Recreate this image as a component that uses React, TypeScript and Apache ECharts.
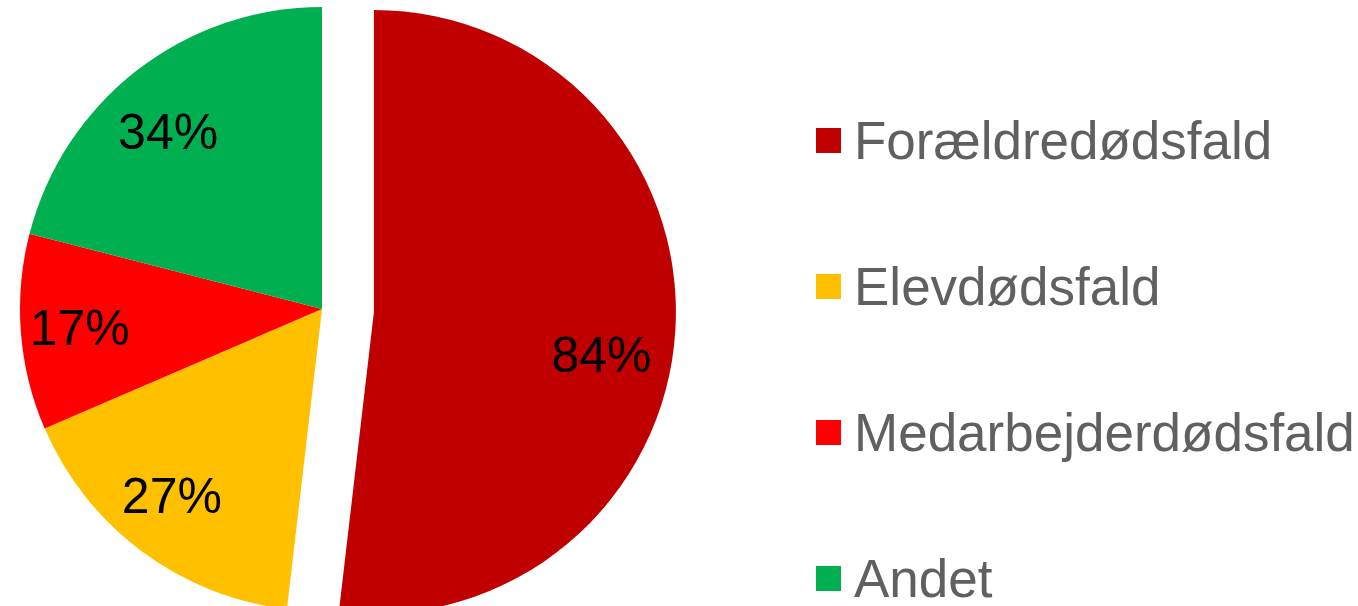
import React, { useEffect, useRef } from "react";
import * as echarts from "echarts";

const categories = ["Forældredødsfald", "Elevdødsfald", "Medarbejderdødsfald", "Andet"];
const values = [84, 27, 17, 34];
const colors = ["#C00000", "#FFC000", "#FF0000", "#00B050"];

export default function App() {
  const ref = useRef<HTMLDivElement>(null);
  useEffect(() => {
    document.body.style.margin = "0";
    const chart = echarts.init(ref.current!, null, { renderer: "svg" });
    const data = categories.map((name, i) => ({
      name,
      value: values[i],
      selected: i === 0,
      itemStyle: { color: colors[i] },
    }));
    // small per-label nudges to mimic the reference's label placement
    const labelTweaks: any[] = [
      { formatter: "\n{c}%", lineHeight: 58, padding: [0, 30, 0, 0] },
      { formatter: "{c}%\n", lineHeight: 16, padding: [0, 10, 0, 0] },
      {},
      { formatter: "\n{c}%", lineHeight: 30, padding: [0, 10, 0, 0] },
    ];
    const labelData = categories.map((name, i) => ({
      name,
      value: values[i],
      selected: i === 0,
      label: labelTweaks[i],
    }));
    chart.setOption({
      animation: false,
      color: colors,
      legend: {
        orient: "vertical",
        left: 816,
        top: 114,
        height: 606,
        padding: 0,
        icon: "rect",
        itemWidth: 25,
        itemHeight: 25,
        itemGap: 93,
        selectedMode: false,
        data: categories,
        textStyle: {
          fontSize: 53,
          lineHeight: 50,
          color: "#606060",
          fontFamily: "Liberation Sans, Arial, sans-serif",
          padding: [0, 0, 0, 8],
        },
      },
      series: [
        {
          type: "pie",
          center: [322, 309],
          radius: [0, 302],
          startAngle: 90,
          clockwise: true,
          selectedMode: "single",
          selectedOffset: 52,
          silent: true,
          label: { show: false },
          labelLine: { show: false },
          emphasis: { disabled: true },
          data,
        },
        {
          type: "pie",
          center: [322, 309],
          radius: [238, 242],
          startAngle: 90,
          clockwise: true,
          selectedMode: "single",
          selectedOffset: 52,
          silent: true,
          legendHoverLink: false,
          itemStyle: { color: "rgba(0,0,0,0)" },
          emphasis: { disabled: true },
          labelLine: { show: false },
          label: {
            show: true,
            position: "inside",
            formatter: "{c}%",
            fontSize: 50,
            color: "#000000",
            fontFamily: "Liberation Sans, Arial, sans-serif",
          },
          data: labelData,
        },
      ],
    });
    return () => chart.dispose();
  }, []);
  return (
    <div
      ref={ref}
      style={{ position: "absolute", left: 0, top: 0, width: 1358, height: 606 }}
    />
  );
}
